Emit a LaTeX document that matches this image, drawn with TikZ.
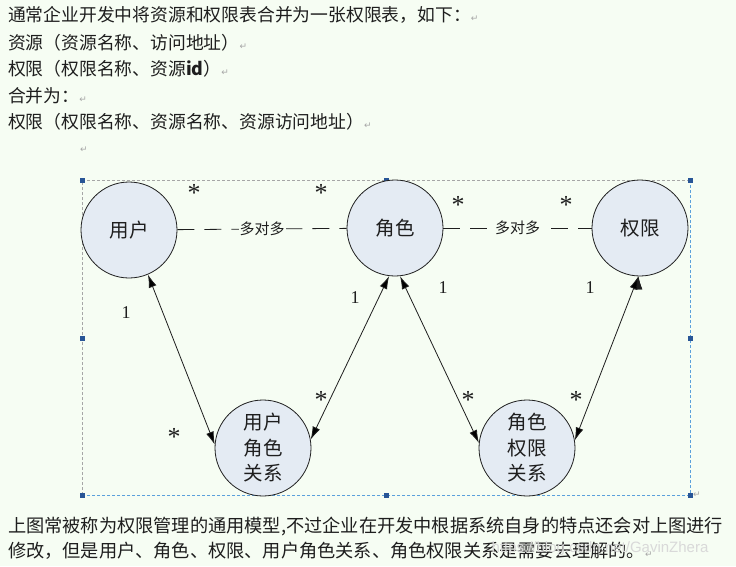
\documentclass[tikz,border=0pt]{standalone}
\usepackage{fontspec}
\usetikzlibrary{arrows.meta}
\setmainfont{Liberation Serif}
\newfontfamily\cjk{Noto Sans CJK SC}
\newfontfamily\markfont{DejaVu Sans}
\newfontfamily\wmfont{Liberation Sans}
\definecolor{paper}{RGB}{246,253,243}
\definecolor{circfill}{RGB}{228,235,243}
\definecolor{handle}{RGB}{40,85,150}
\definecolor{selblue}{RGB}{90,160,220}
\definecolor{ink}{RGB}{30,30,30}
\newcommand{\pmark}{{\markfont\color{gray!70}\fontsize{9}{9}\selectfont ↵}}

\begin{document}
\begin{tikzpicture}[x=1pt, y=-1pt,
  main node/.style={circle,draw=ink,line width=0.8pt,fill=circfill,minimum size=96pt,inner sep=0pt,
                    align=center,text=ink,font=\cjk\fontsize{19.5}{25.5}\selectfont},
  para/.style={anchor=west,inner sep=0pt,text=ink,font=\cjk\fontsize{17.8}{26}\selectfont},
  mult/.style={inner sep=0pt,text=ink,font=\fontsize{18}{18}\selectfont},
  star/.style={inner sep=0pt,text=ink,font=\fontsize{26}{26}\selectfont},
  many/.style={fill=paper,inner sep=1pt,text=ink,font=\cjk\fontsize{15}{15}\selectfont},
  link/.style={<->,>={Latex[length=13pt,width=8pt]},line width=0.8pt,draw=ink},
  handlebox/.style={fill=handle,minimum size=5pt,inner sep=0pt}]

  \fill[paper] (0,0) rectangle (736,566);
  \useasboundingbox (0,0) rectangle (736,566);

  % text above the picture
  \node[para] (t1) at (8,15) {通常企业开发中将资源和权限表合并为一张权限表，如下：\pmark};
  \node[para] (t2) at (8,43) {资源（资源名称、访问地址）\pmark};
  \node[para] (t3) at (8,69) {权限（权限名称、资源\textbf{id}）\pmark};
  \node[para] (t4) at (8,96) {合并为：\pmark};
  \node[para] (t5) at (8,122) {权限（权限名称、资源名称、资源访问地址）\pmark};
  \node[para] (t6) at (80,150) {\pmark};

  % selection frame
  \draw[dash pattern=on 3pt off 2pt,gray!70] (82,495) -- (82,180) -- (690,180);
  \draw[dash pattern=on 3pt off 2pt,selblue] (690,180) -- (690,495) -- (82,495);
  \foreach \x/\y in {82/180,386/180,690/180,82/338,690/338,82/495,386/495,690/495}
    \node[handlebox] at (\x,\y) {};
  \node[para] (t7) at (693,495) {\pmark};

  \node[main node] (yh) at (129,230) {用户};
  \node[main node] (js) at (395,228) {角色};
  \node[main node] (qx) at (640,228) {权限};
  \node[main node] (yhjs) at (263,448) {用户\\角色\\关系};
  \node[main node] (jsqx) at (527,448) {角色\\权限\\关系};

  \path[draw=ink,line width=0.8pt,dash pattern=on 17pt off 10pt]
    (yh) edge node[many] {多对多} (js)
    (js) edge node[many] {多对多} (qx);

  \path[link]
    (yh.-67) edge (yhjs.176)
    (js.-97) edge (yhjs.10)
    (js.-84) edge (jsqx.174)
    (qx.-92) edge (jsqx.9);

  % multiplicities
  \node[star] (s1) at (194,193) {*};
  \node[star] (s2) at (321,193) {*};
  \node[star] (s3) at (458,205) {*};
  \node[star] (s4) at (566,205) {*};
  \node[star] (s5) at (174,437) {*};
  \node[star] (s6) at (321,400) {*};
  \node[star] (s7) at (468,400) {*};
  \node[star] (s8) at (576,400) {*};
  \node[mult] (o1) at (126,313) {1};
  \node[mult] (o2) at (355,298) {1};
  \node[mult] (o3) at (443,288) {1};
  \node[mult] (o4) at (590,288) {1};

  % text below the picture
  \node[para,font=\cjk\fontsize{18.2}{26}\selectfont] (b1) at (8,526) {上图常被称为权限管理的通用模型,不过企业在开发中根据系统自身的特点还会对上图进行};
  \node[para,font=\cjk\fontsize{18.2}{26}\selectfont] (b2) at (8,551) {修改，但是用户、角色、权限、用户角色关系、角色权限关系是需要去理解的。\pmark};
  \node[text=gray!30,inner sep=0pt,font=\wmfont\fontsize{15}{15}\selectfont] (wm) at (600,549) {https://blog.csdn.net/GavinZhera};
\end{tikzpicture}
\end{document}
